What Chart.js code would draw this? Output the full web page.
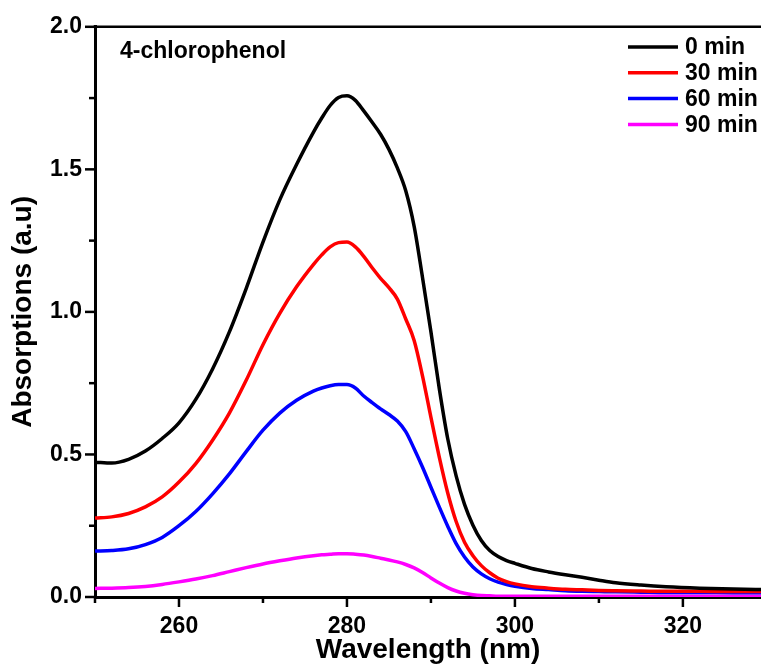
<!DOCTYPE html>
<html>
<head>
<meta charset="utf-8">
<script src="https://cdn.jsdelivr.net/npm/chart.js@4.4.1/dist/chart.umd.min.js"></script>
<style>
  html, body { margin: 0; padding: 0; background: #fff; }
  #chart { display: block; }
</style>
</head>
<body>
<canvas id="chart" width="761" height="664"></canvas>
<script>
// wavelength (nm)
var wavelengths = [250, 252, 254, 256, 258, 260, 262, 264, 266, 268, 270, 272, 274,
    276, 277, 278, 279, 280, 281, 282, 283, 284, 285, 286, 287, 288, 289, 290,
    291, 292, 293, 294, 295, 296, 297, 298, 299, 300,
    302, 304, 306, 308, 310, 312, 315, 318, 322, 326, 330];

var abs0 = [0.473, 0.470, 0.483, 0.512, 0.556, 0.611, 0.693, 0.800, 0.930, 1.082, 1.245, 1.393, 1.517,
    1.630, 1.680, 1.724, 1.752, 1.758, 1.742, 1.705, 1.665, 1.623, 1.570, 1.505, 1.425, 1.300, 1.120, 0.930,
    0.730, 0.555, 0.425, 0.325, 0.252, 0.198, 0.163, 0.142, 0.128, 0.118,
    0.100, 0.088, 0.078, 0.069, 0.059, 0.050, 0.042, 0.036, 0.031, 0.028, 0.026];
var abs30 = [0.277, 0.281, 0.293, 0.316, 0.351, 0.403, 0.468, 0.550, 0.645, 0.760, 0.885, 0.995, 1.088,
    1.166, 1.200, 1.228, 1.243, 1.245, 1.228, 1.195, 1.155, 1.118, 1.085, 1.045, 0.975, 0.900, 0.775, 0.630,
    0.490, 0.365, 0.265, 0.192, 0.145, 0.110, 0.085, 0.066, 0.054, 0.046,
    0.036, 0.031, 0.027, 0.025, 0.023, 0.022, 0.021, 0.020, 0.020, 0.019, 0.019];
var abs60 = [0.161, 0.163, 0.169, 0.184, 0.209, 0.250, 0.300, 0.362, 0.432, 0.510, 0.585, 0.645, 0.690,
    0.722, 0.733, 0.741, 0.745, 0.745, 0.733, 0.705, 0.682, 0.660, 0.640, 0.617, 0.580, 0.520, 0.455, 0.385,
    0.315, 0.248, 0.187, 0.140, 0.105, 0.081, 0.064, 0.052, 0.044, 0.038,
    0.030, 0.026, 0.022, 0.020, 0.019, 0.018, 0.017, 0.016, 0.016, 0.015, 0.015];
var abs90 = [0.030, 0.031, 0.033, 0.037, 0.044, 0.053, 0.063, 0.075, 0.089, 0.103, 0.116, 0.127, 0.137,
    0.145, 0.148, 0.150, 0.152, 0.152, 0.150, 0.147, 0.142, 0.136, 0.130, 0.123, 0.114, 0.102, 0.086, 0.067,
    0.049, 0.033, 0.021, 0.013, 0.008, 0.005, 0.004, 0.003, 0.003, 0.003,
    0.003, 0.003, 0.003, 0.003, 0.003, 0.003, 0.003, 0.003, 0.003, 0.003, 0.003];

var seriesNames = ["0 min", "30 min", "60 min", "90 min"];
var seriesColors = ["#000000", "#ff0000", "#0000ff", "#ff00ff"];
var yTicks = [0, 0.5, 1.0, 1.5, 2.0];
var xTicks = [260, 280, 300, 320];

var font = "'Liberation Sans', Arial, sans-serif";

function points(ys) {
    return wavelengths.map(function (w, i) { return { x: w, y: ys[i] }; });
}

var allSeries = [abs0, abs30, abs60, abs90];
var datasets = allSeries.map(function (ys, i) {
    return {
        label: seriesNames[i],
        data: points(ys),
        borderColor: seriesColors[i],
        backgroundColor: seriesColors[i],
        borderWidth: 3.5,
        pointRadius: 0,
        cubicInterpolationMode: 'monotone',
        fill: false
    };
});

// frame top line, minor/major tick marks, legend and label text
var decorations = {
    id: 'decorations',
    afterDraw: function (chart) {
        var ctx = chart.ctx;
        var area = chart.chartArea;
        var xs = chart.scales.x;
        var ys = chart.scales.y;
        ctx.save();
        ctx.strokeStyle = '#000';
        ctx.lineWidth = 2.5;
        ctx.beginPath();
        ctx.moveTo(area.left - 1.5, area.top);
        ctx.lineTo(area.right, area.top);
        ctx.stroke();

        // y ticks every 0.25
        for (var v = 0; v <= 2.0001; v += 0.25) {
            var py = ys.getPixelForValue(v);
            var len = (Math.abs(v * 2 - Math.round(v * 2)) < 1e-6) ? 10 : 6;
            ctx.beginPath();
            ctx.moveTo(area.left, py);
            ctx.lineTo(area.left - len, py);
            ctx.stroke();
        }
        // x ticks every 10
        for (var w = 250; w <= xs.max; w += 10) {
            var px = xs.getPixelForValue(w);
            var l2 = (w % 20 === 0) ? 10 : 6;
            ctx.beginPath();
            ctx.moveTo(px, area.bottom);
            ctx.lineTo(px, area.bottom + l2);
            ctx.stroke();
        }

        // label
        ctx.fillStyle = '#000';
        ctx.font = 'bold 23px ' + font;
        ctx.textAlign = 'left';
        ctx.textBaseline = 'alphabetic';
        ctx.fillText('4-chlorophenol', 120, 58);

        // legend
        chart.data.datasets.forEach(function (ds, i) {
            var ry = 47 + i * 25.8;
            ctx.strokeStyle = ds.borderColor;
            ctx.lineWidth = 3.5;
            ctx.beginPath();
            ctx.moveTo(628, ry);
            ctx.lineTo(678, ry);
            ctx.stroke();
            ctx.fillStyle = '#000';
            ctx.textBaseline = 'middle';
            ctx.fillText(ds.label, 685, ry + 1);
        });
        ctx.restore();
    }
};

new Chart(document.getElementById('chart'), {
    type: 'line',
    data: { datasets: datasets },
    options: {
        responsive: false,
        animation: false,
        layout: { padding: { left: 0, right: 0, top: 25, bottom: 0 } },
        plugins: {
            legend: { display: false },
            tooltip: { enabled: false }
        },
        scales: {
            x: {
                type: 'linear',
                min: 250,
                max: 329.3,
                afterFit: function (scale) { scale.height = 67; },
                afterBuildTicks: function (scale) {
                    scale.ticks = xTicks.map(function (v) { return { value: v }; });
                },
                grid: { display: false, drawTicks: false },
                border: { display: true, color: '#000', width: 3 },
                ticks: {
                    color: '#000',
                    padding: 16,
                    autoSkip: false,
                    maxRotation: 0,
                    font: { family: font, size: 23, weight: 'bold' },
                    callback: function (v) { return String(v); }
                },
                title: {
                    display: true,
                    text: 'Wavelength (nm)',
                    color: '#000',
                    padding: 0,
                    font: { family: font, size: 28, weight: 'bold', lineHeight: 1 }
                }
            },
            y: {
                min: 0,
                max: 2.0,
                afterFit: function (scale) { scale.width = 95; },
                afterBuildTicks: function (scale) {
                    scale.ticks = yTicks.map(function (v) { return { value: v }; });
                },
                grid: { display: false, drawTicks: false },
                border: { display: true, color: '#000', width: 3 },
                ticks: {
                    color: '#000',
                    padding: 13,
                    font: { family: font, size: 23, weight: 'bold' },
                    callback: function (v) { return v.toFixed(1); }
                },
                title: {
                    display: true,
                    text: 'Absorptions (a.u)',
                    color: '#000',
                    padding: { top: 9, bottom: 0 },
                    font: { family: font, size: 28, weight: 'bold', lineHeight: 1 }
                }
            }
        }
    },
    plugins: [decorations]
});
</script>
</body>
</html>
